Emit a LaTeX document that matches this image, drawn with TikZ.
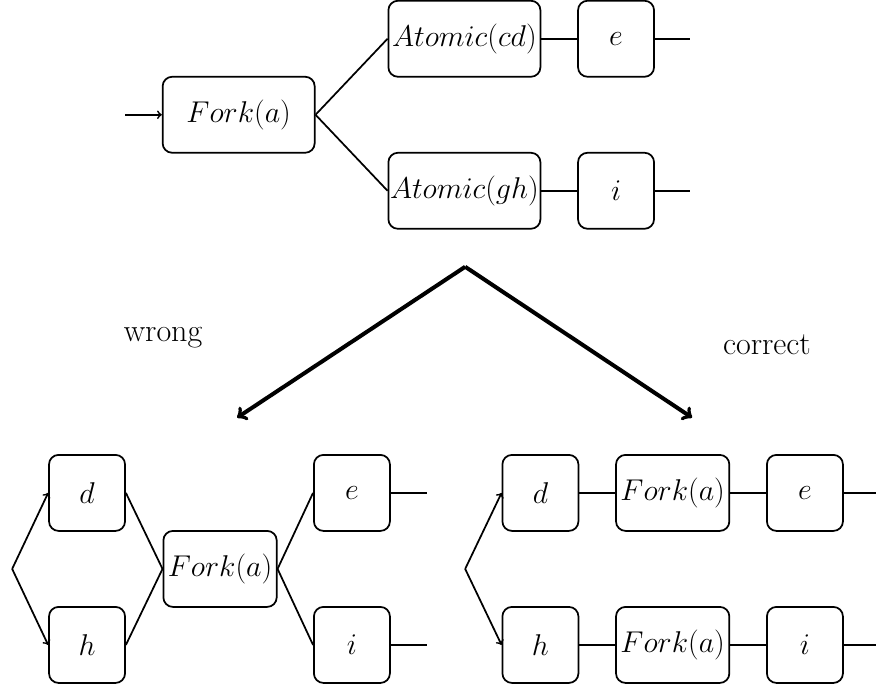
\RequirePackage{fix-cm}
\documentclass[tikz,border=0pt]{standalone}
\usetikzlibrary{positioning}
\begin{document}
\begin{tikzpicture}
[font=\fontsize{22.5}{27}\selectfont, line width=1.3pt, >=to,
block/.style={rectangle, draw, rounded corners=0.25cm, minimum width=2cm, minimum height=2cm},
wideblock/.style={block, minimum width=4cm, inner xsep=1pt},
verdict/.style={font=\fontsize{24}{29}\selectfont}]

\useasboundingbox (0,0) rectangle (23.05,18.1);

% original
\node[wideblock] (fork) at (6.28, 15.08) {$Fork(a)$};
\coordinate (in) at (3.29, 15.08);
\draw[->] (in) -- (fork.west);

\foreach \y/\p/\q in {17.08/cd/e, 13.08/gh/i} {
    \node[wideblock] (atom\p) at (12.22, \y) {$Atomic(\p)$};
    \node[block] (t\q) at (16.21, \y) {$\q$};
    \coordinate (tend\q) at (18.16, \y);
    \draw (fork.east) -- (atom\p.west);
    \draw (atom\p.east) -- (t\q.west);
    \draw (t\q.east) -- (tend\q);
}

% the two rewrites
\coordinate (apex) at (12.24, 11.08);
\coordinate (wtip) at (6.24, 7.11);
\coordinate (ctip) at (18.21, 7.11);
\draw[->, line width=3pt] (apex) -- (wtip);
\draw[->, line width=3pt] (apex) -- (ctip);
\node[verdict] (wlabel) at (4.29, 9.21) {wrong};
\node[verdict] (clabel) at (20.18, 9.03) {correct};

% wrong
\coordinate (wsplit) at (0.32, 3.13);
\node[block] (wfork) at (5.79, 3.13) {$Fork(a)$};
\foreach \y/\a/\b in {5.13/d/e, 1.13/h/i} {
    \node[block] (w\a) at (2.29, \y) {$\a$};
    \node[block] (w\b) at (9.26, \y) {$\b$};
    \coordinate (wend\b) at (11.24, \y);
    \draw[->] (wsplit) -- (w\a.west);
    \draw (w\a.east) -- (wfork.west);
    \draw (wfork.east) -- (w\b.west);
    \draw (w\b.east) -- (wend\b);
}

% correct
\coordinate (csplit) at (12.24, 3.13);
\foreach \y/\a/\b in {5.13/d/e, 1.13/h/i} {
    \node[block] (c\a) at (14.22, \y) {$\a$};
    \node[block] (cfork\a) at (17.70, \y) {$Fork(a)$};
    \node[block] (c\b) at (21.18, \y) {$\b$};
    \coordinate (cend\b) at (23.05, \y);
    \draw[->] (csplit) -- (c\a.west);
    \draw (c\a.east) -- (cfork\a.west);
    \draw (cfork\a.east) -- (c\b.west);
    \draw (c\b.east) -- (cend\b);
}

\end{tikzpicture}
\end{document}
